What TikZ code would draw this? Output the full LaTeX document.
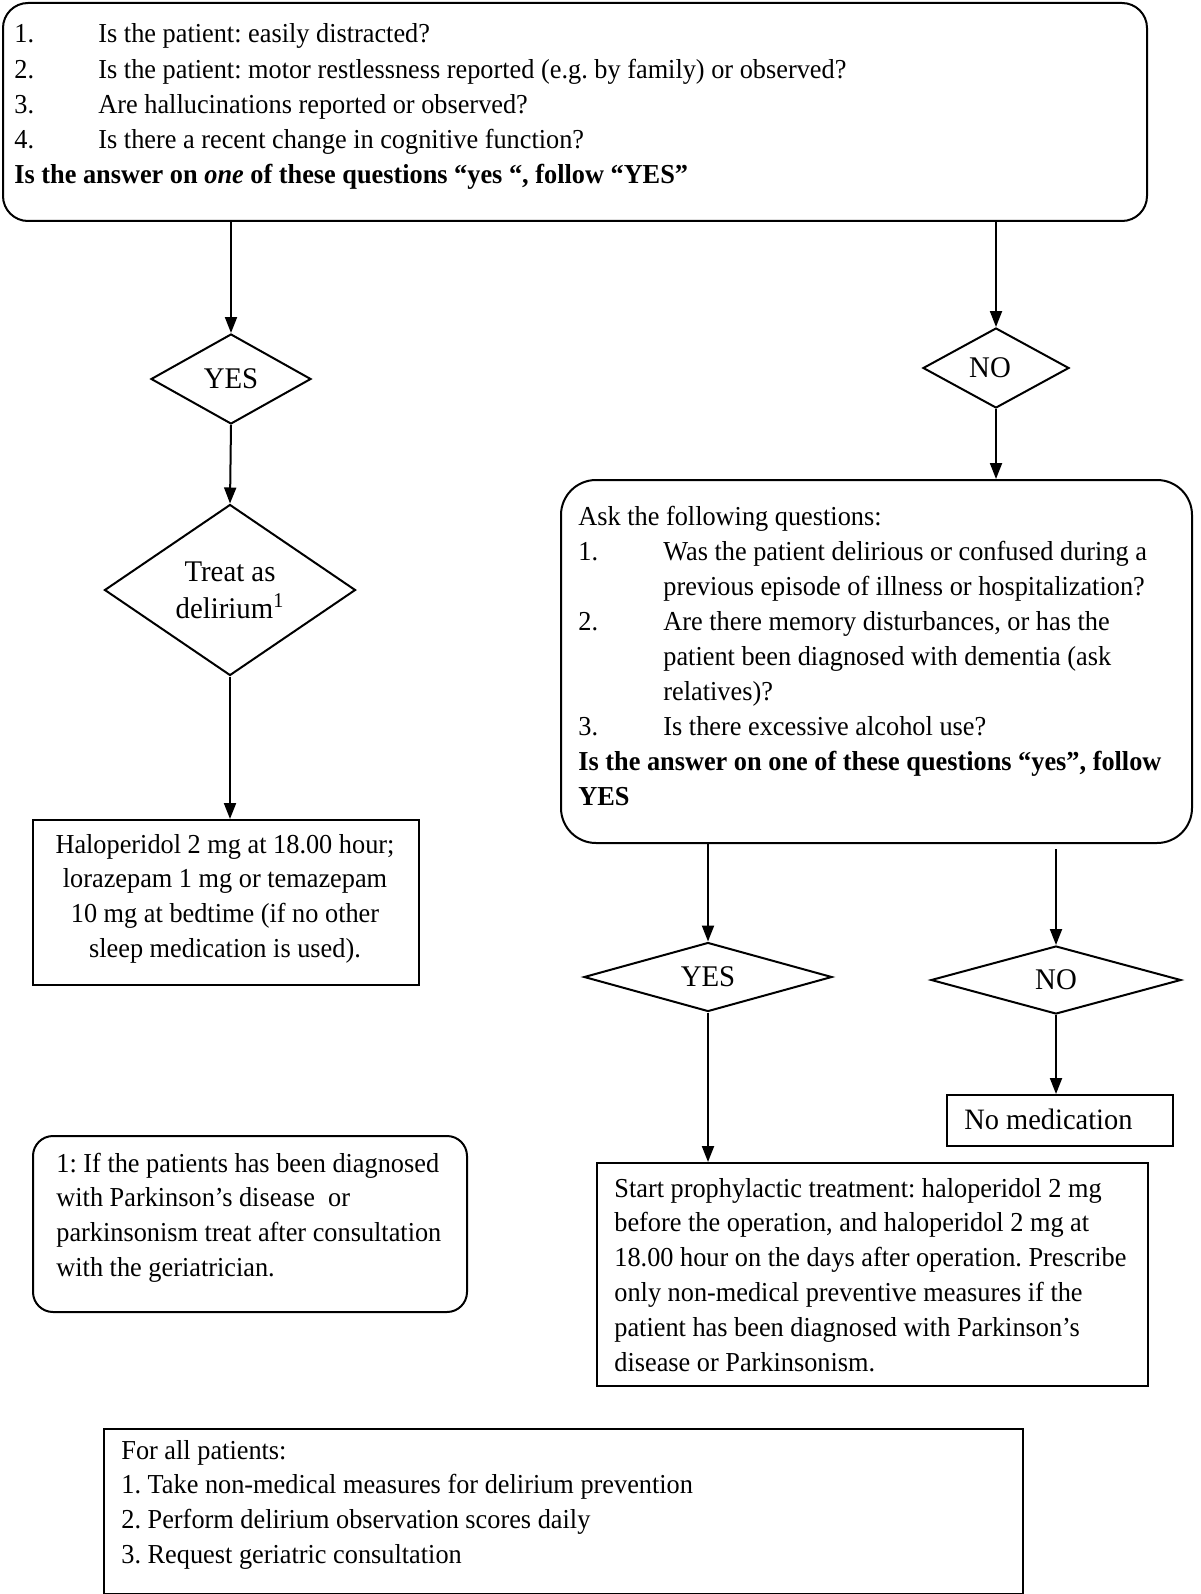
\documentclass[tikz,border=0pt]{standalone}
\usepackage{fontspec}
\setmainfont[FakeStretch=0.96]{Liberation Serif}
\usetikzlibrary{arrows.meta,shapes.geometric,calc}
\newcommand\myfs{\fontsize{13.7}{17.4}\selectfont\frenchspacing}
\newcommand\myfsb{\fontsize{13.7}{17.55}\selectfont\frenchspacing}
\newcommand\myfsd{\fontsize{15}{18.5}\selectfont}
\begin{document}
\begin{tikzpicture}[x=0.5pt,y=-0.5pt,
  box/.style={draw,line width=1pt,rectangle,inner sep=0pt,anchor=north west},
  rbox/.style={box,rounded corners=12.5pt},
  dia/.style={draw,line width=1pt,diamond,inner sep=0pt,aspect=2,font=\myfsd,align=center},
  arr/.style={line width=1pt,-{Triangle[length=8pt,width=6pt]}},
  txt/.style={inner sep=0pt,anchor=base west},
]
\useasboundingbox (0,0) rectangle (1200,1594);
% boxes
\node[rbox,minimum width=572pt,minimum height=109pt] (top) at (2,2) {};
\node[box,minimum width=193pt,minimum height=82.5pt] (halo) at (32,819) {};
\node[rbox,rounded corners=17.5pt,minimum width=315.5pt,minimum height=181.5pt] (ask) at (560,479) {};
\node[box,minimum width=113pt,minimum height=25.5pt] (nomed) at (946,1094) {};
\node[box,minimum width=275.5pt,minimum height=111.5pt] (start) at (596,1162) {};
\node[rbox,rounded corners=10pt,minimum width=217pt,minimum height=88pt] (foot) at (32,1135) {};
\node[box,minimum width=459.5pt,minimum height=82.5pt] (all) at (103,1428) {};
% diamonds
\node[dia,minimum width=80pt,minimum height=45pt] (yes1) at (231,379) {YES};
\node[dia,minimum width=125.5pt,minimum height=85.5pt] (treat) at (230,590) {Treat as\\delirium\textsuperscript{1}};
\node[dia,minimum width=73pt,minimum height=40pt] (no1) at (996,368) {\kern-6pt NO};
\node[dia,minimum width=124pt,minimum height=34.5pt] (yes2) at (708,977) {YES};
\node[dia,minimum width=125pt,minimum height=34pt] (no2) at (1056,980) {NO};
% texts
\node[txt] (topT) at (14,43) {\parbox[t]{560pt}{\myfsb
\makebox[42pt][l]{1.}Is the patient: easily distracted?\\
\makebox[42pt][l]{2.}Is the patient: motor restlessness reported (e.g. by family) or observed?\\
\makebox[42pt][l]{3.}Are hallucinations reported or observed?\\
\makebox[42pt][l]{4.}Is there a recent change in cognitive function?\\
\textbf{Is the answer on \textit{one} of these questions “yes “, follow “YES”}}};
\node[txt,anchor=base] (haloT) at (225,853) {\parbox[t]{193pt}{\centering\myfs
Haloperidol 2 mg at 18.00 hour;\\
lorazepam 1 mg or temazepam\\
10 mg at bedtime (if no other\\
sleep medication is used).}};
\node[txt] (askT) at (578,525) {\parbox[t]{305pt}{\myfsb
Ask the following questions:\\
\makebox[42.5pt][l]{1.}Was the patient delirious or confused during a\\
\hspace*{42.5pt}previous episode of illness or hospitalization?\\
\makebox[42.5pt][l]{2.}Are there memory disturbances, or has the\\
\hspace*{42.5pt}patient been diagnosed with dementia (ask\\
\hspace*{42.5pt}relatives)?\\
\makebox[42.5pt][l]{3.}Is there excessive alcohol use?\\
\textbf{Is the answer on one of these questions “yes”, follow}\\
\textbf{YES}}};
\node[txt] (nomedT) at (964,1129) {\fontsize{14.8}{17.4}\selectfont No medication};
\node[txt] (startT) at (614,1197) {\parbox[t]{265pt}{\myfs
Start prophylactic treatment: haloperidol 2 mg\\
before the operation, and haloperidol 2 mg at\\
18.00 hour on the days after operation. Prescribe\\
only non-medical preventive measures if the\\
patient has been diagnosed with Parkinson’s\\
disease or Parkinsonism.}};
\node[txt] (footT) at (56,1172) {\parbox[t]{210pt}{\myfs
1: If the patients has been diagnosed\\
with Parkinson’s disease\ \ or\\
parkinsonism treat after consultation\\
with the geriatrician.}};
\node[txt] (allT) at (121,1459) {\parbox[t]{450pt}{\myfs
For all patients:\\
1. Take non-medical measures for delirium prevention\\
2. Perform delirium observation scores daily\\
3. Request geriatric consultation}};
% arrows
\draw[arr] (yes1 |- top.south) -- (yes1.north);
\draw[arr] (yes1.south) -- (treat.north);
\draw[arr] (treat.south) -- (treat.south |- halo.north);
\draw[arr] (no1 |- top.south) -- (no1.north);
\draw[arr] (no1.south) -- (no1.south |- ask.north);
\draw[arr] (yes2 |- ask.south) -- (yes2.north);
\draw[arr,shorten <=2.5pt] (no2 |- ask.south) -- (no2.north);
\draw[arr] (no2.south) -- (no2.south |- nomed.north);
\draw[arr] (yes2.south) -- (yes2.south |- start.north);
\end{tikzpicture}
\end{document}
